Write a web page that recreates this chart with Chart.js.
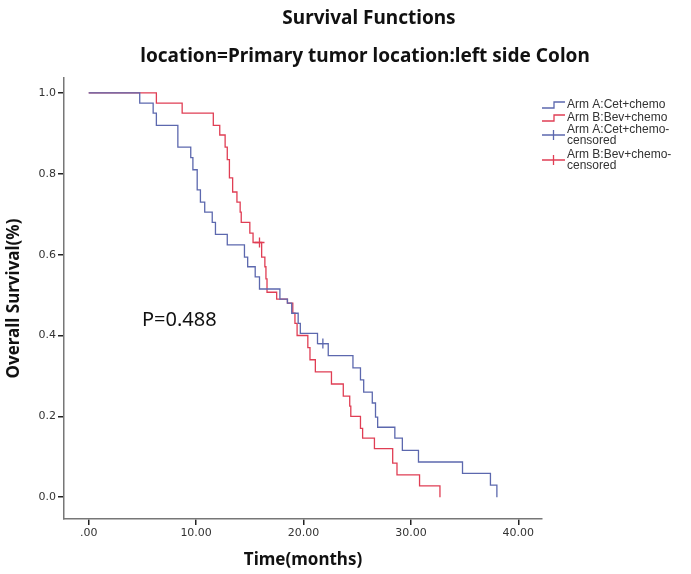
<!DOCTYPE html>
<html>
<head>
<meta charset="utf-8">
<title>Survival Functions</title>
<script src="https://cdn.jsdelivr.net/npm/chart.js@4.4.0/dist/chart.umd.min.js"></script>
<style>
  html, body { margin: 0; padding: 0; background: #fff; }
  #wrap { width: 691px; height: 574px; }
</style>
</head>
<body>
<div id="wrap"><canvas id="myChart" width="691" height="574"></canvas></div>
<script>
// Kaplan-Meier steps (months, survival)
var armA_t = [0, 4.75, 6.0, 6.3, 8.3, 9.5, 9.7, 10.1, 10.4, 10.8, 11.5, 11.8, 12.9, 14.5, 14.8, 15.5, 15.9, 17.8, 18.5, 18.9, 19.5, 19.7, 21.3, 22.3, 24.6, 25.3, 25.6, 26.4, 26.7, 26.9, 28.5, 29.2, 30.7, 34.8, 37.4, 38.0]
var armA_s = [1.0, 0.975, 0.95, 0.92, 0.866, 0.84, 0.81, 0.76, 0.73, 0.705, 0.68, 0.65, 0.624, 0.594, 0.57, 0.545, 0.515, 0.49, 0.48, 0.455, 0.43, 0.405, 0.38, 0.35, 0.32, 0.29, 0.26, 0.233, 0.198, 0.173, 0.146, 0.116, 0.087, 0.059, 0.03, 0.0]

var armB_t = [0, 6.3, 8.7, 11.6, 12.2, 12.7, 12.9, 13.1, 13.4, 13.8, 14.1, 14.2, 15.0, 15.3, 16.1, 16.4, 16.5, 16.6, 17.5, 18.5, 19.0, 19.2, 19.4, 20.4, 20.6, 21.1, 22.6, 23.7, 24.3, 24.4, 25.3, 25.5, 26.6, 28.3, 28.7, 30.8, 32.7]
var armB_s = [1.0, 0.975, 0.95, 0.92, 0.896, 0.866, 0.835, 0.79, 0.755, 0.73, 0.705, 0.68, 0.653, 0.63, 0.594, 0.57, 0.54, 0.507, 0.49, 0.48, 0.455, 0.43, 0.40, 0.37, 0.34, 0.31, 0.28, 0.25, 0.225, 0.2, 0.17, 0.146, 0.12, 0.084, 0.055, 0.028, 0.0]

// censored observations
var censA_t = [21.8]
var censA_s = [0.38]
var censB_t = [15.9]
var censB_s = [0.63]

var seriesNames = ['Arm A:Cet+chemo', 'Arm B:Bev+chemo']
var xTicks = [0, 10, 20, 30, 40]
var yTicks = [0, 0.2, 0.4, 0.6, 0.8, 1.0]
var pValue = 'P=0.488'

var blue = 'rgb(92,104,174)'
var red = 'rgb(224,62,84)'

function pts(t, s) {
    return t.map(function (v, i) { return { x: v, y: s[i] } })
}

// titles, p-value and the legend are painted on top
var extras = {
    id: 'extras',
    afterDraw: function (chart) {
        var c = chart.ctx
        c.save()
        c.fillStyle = '#111'
        c.textAlign = 'center'
        c.textBaseline = 'middle'
        c.font = 'bold 19px "Noto Sans"'
        c.fillText('Survival Functions', 369, 19)
        c.fillText('location=Primary tumor location:left side Colon', 365, 57)

        c.textAlign = 'left'
        c.font = '20px "Noto Sans"'
        c.fillText(pValue, 142, 320)

        // legend
        var lx = 542, tx = 567
        c.font = '12px "Liberation Sans"'
        c.fillStyle = '#333'
        var rows = [
            { kind: 'step', color: blue, lines: [seriesNames[0]], y: 105 },
            { kind: 'step', color: red, lines: [seriesNames[1]], y: 118 },
            { kind: 'cross', color: blue, lines: [seriesNames[0] + '-', 'censored'], y: 130 },
            { kind: 'cross', color: red, lines: [seriesNames[1] + '-', 'censored'], y: 155 }
        ]
        rows.forEach(function (r) {
            c.strokeStyle = r.color
            c.lineWidth = 1.3
            c.beginPath()
            if (r.kind === 'step') {
                c.moveTo(lx, r.y + 3)
                c.lineTo(lx + 12, r.y + 3)
                c.lineTo(lx + 12, r.y - 3)
                c.lineTo(lx + 23, r.y - 3)
            } else {
                c.moveTo(lx, r.y + 5)
                c.lineTo(lx + 23, r.y + 5)
                c.moveTo(lx + 11.5, r.y)
                c.lineTo(lx + 11.5, r.y + 10)
            }
            c.stroke()
            r.lines.forEach(function (txt, k) {
                c.fillText(txt, tx, r.y + k * 11)
            })
        })
        c.restore()
    }
}

var ctx = document.getElementById('myChart').getContext('2d');

var chart = new Chart(ctx, {
    type: 'line',
    data: {
        datasets: [{
                label: seriesNames[0],
                data: pts(armA_t, armA_s),
                borderColor: blue,
                borderWidth: 1.3,
                stepped: 'before',
                pointRadius: 0,
                fill: false
            },
            {
                label: seriesNames[1],
                data: pts(armB_t, armB_s),
                borderColor: red,
                borderWidth: 1.3,
                stepped: 'before',
                pointRadius: 0,
                fill: false
            },
            {
                label: seriesNames[0] + '-censored',
                type: 'scatter',
                data: pts(censA_t, censA_s),
                borderColor: blue,
                pointStyle: 'cross',
                pointRadius: 5,
                pointBorderWidth: 1.3,
                showLine: false
            },
            {
                label: seriesNames[1] + '-censored',
                type: 'scatter',
                data: pts(censB_t, censB_s),
                borderColor: red,
                pointStyle: 'cross',
                pointRadius: 5,
                pointBorderWidth: 1.3,
                showLine: false
            }
        ]
    },
    options: {
        responsive: false,
        animation: false,
        devicePixelRatio: 1,
        layout: { padding: { left: 0, right: 149, top: 78, bottom: 0 } },
        plugins: {
            legend: { display: false },
            tooltip: { enabled: false }
        },
        scales: {
            x: {
                type: 'linear',
                min: -2.3,
                max: 42.2,
                afterFit: function (s) { s.height = 55 },
                afterBuildTicks: function (s) { s.ticks = xTicks.map(function (v) { return { value: v } }) },
                border: { display: true, color: '#777', width: 1.5 },
                grid: { display: true, drawOnChartArea: false, drawTicks: true, tickLength: 6, color: '#222', lineWidth: 1.5 },
                ticks: {
                    color: '#333',
                    font: { family: '"DejaVu Sans"', size: 11 },
                    padding: 2,
                    maxRotation: 0,
                    callback: function (v) { return v === 0 ? '.00' : v.toFixed(2) }
                },
                title: {
                    display: true,
                    text: 'Time(months)',
                    color: '#111',
                    font: { family: '"Noto Sans"', size: 17, weight: 'bold' },
                    padding: { top: 4 }
                }
            },
            y: {
                min: -0.054,
                max: 1.037,
                afterFit: function (s) { s.width = 64 },
                afterBuildTicks: function (s) { s.ticks = yTicks.map(function (v) { return { value: v } }) },
                border: { display: true, color: '#777', width: 1.5 },
                grid: { display: true, drawOnChartArea: false, drawTicks: true, tickLength: 6, color: '#222', lineWidth: 1.5 },
                ticks: {
                    color: '#333',
                    font: { family: '"DejaVu Sans"', size: 11 },
                    padding: 2,
                    callback: function (v) { return v.toFixed(1) }
                },
                title: {
                    display: true,
                    text: 'Overall Survival(%)',
                    color: '#111',
                    font: { family: '"Noto Sans"', size: 17, weight: 'bold' },
                    padding: { top: 4, bottom: 2 }
                }
            }
        }
    },
    plugins: [extras]
});
</script>
</body>
</html>
